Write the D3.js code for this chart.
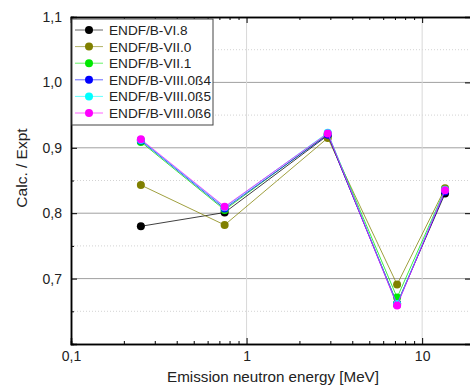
<!DOCTYPE html>
<html>
<head>
<meta charset="utf-8">
<script src="https://cdn.jsdelivr.net/npm/d3@7"></script>
<style>
  body { margin: 0; background: #fff; }
  text { font-family: "Liberation Sans", Arial, sans-serif; }
</style>
</head>
<body>
<svg width="470" height="392"></svg>
<script>
// emission energies (MeV)
const energies = [0.25, 0.75, 2.9, 7.2, 13.5]

const libraries = ["ENDF/B-VI.8", "ENDF/B-VII.0", "ENDF/B-VII.1", "ENDF/B-VIII.0ß4", "ENDF/B-VIII.0ß5", "ENDF/B-VIII.0ß6"]
const colors = ["#000000", "#808000", "#00e800", "#0000ff", "#00ffff", "#ff00ff"]

const vi8   = [0.780, 0.801, 0.919, 0.662, 0.830]
const vii0  = [0.843, 0.782, 0.915, 0.691, 0.838]
const vii1  = [0.909, 0.805, 0.921, 0.671, 0.836]
const viii4 = [0.911, 0.807, 0.920, 0.660, 0.833]
const viii5 = [0.912, 0.809, 0.923, 0.661, 0.836]
const viii6 = [0.913, 0.810, 0.922, 0.659, 0.835]
const seriesValues = [vi8, vii0, vii1, viii4, viii5, viii6]

const yTicks = [0.7, 0.8, 0.9, 1.0, 1.1]
const yMinor = [0.65, 0.75, 0.85, 0.95, 1.05]
const xTicks = [0.1, 1, 10]

const svg = d3.select("svg")
const mLeft = 71, mRight = 475, mTop = 17, mBottom = 344

const x = d3.scaleLog().domain([0.1, 20]).range([mLeft, mRight])
const y = d3.scaleLinear().domain([0.6, 1.1]).range([mBottom, mTop])

const fmt = d => d3.format(".1f")(d).replace(".", ",")

// grid
const grid = svg.append("g")
grid.selectAll(".minor").data(yMinor).enter().append("line")
  .attr("x1", mLeft).attr("x2", mRight)
  .attr("y1", d => y(d)).attr("y2", d => y(d))
  .attr("stroke", "#c8c8c8").attr("stroke-dasharray", "1,2").attr("stroke-width", 0.8)
grid.selectAll(".major").data(yTicks.slice(0, 4)).enter().append("line")
  .attr("x1", mLeft).attr("x2", mRight)
  .attr("y1", d => y(d)).attr("y2", d => y(d))
  .attr("stroke", "#a0a0a0").attr("stroke-width", 1)
grid.selectAll(".vx").data([1, 10]).enter().append("line")
  .attr("x1", d => x(d)).attr("x2", d => x(d))
  .attr("y1", mTop).attr("y2", mBottom)
  .attr("stroke", "#d8d8d8").attr("stroke-width", 1)

// axes
const xMinorVals = []
;[0.1, 1, 10].forEach(dec => { for (let k = 2; k <= 9; k++) if (dec * k <= 20) xMinorVals.push(dec * k) })

svg.append("g").attr("transform", `translate(0,${mBottom})`)
  .call(d3.axisBottom(x).tickValues(xTicks).tickSize(-6).tickPadding(7)
    .tickFormat(d => String(d).replace(".", ",")))
svg.append("g").attr("transform", `translate(0,${mBottom})`)
  .call(d3.axisBottom(x).tickValues(xMinorVals).tickSize(-3).tickFormat(""))

svg.append("g").attr("transform", `translate(0,${mTop})`)
  .call(d3.axisTop(x).tickValues(xTicks).tickSize(-6).tickFormat(""))
svg.append("g").attr("transform", `translate(0,${mTop})`)
  .call(d3.axisTop(x).tickValues(xMinorVals).tickSize(-3).tickFormat(""))

svg.append("g").attr("transform", `translate(${mLeft},0)`)
  .call(d3.axisLeft(y).tickValues(yTicks).tickSize(-6).tickPadding(9).tickFormat(fmt))
svg.append("g").attr("transform", `translate(${mLeft},0)`)
  .call(d3.axisLeft(y).tickValues(yMinor).tickSize(-3).tickFormat(""))
svg.append("g").attr("transform", `translate(${mRight - 4},0)`)
  .call(d3.axisRight(y).tickValues(yTicks).tickSize(-6).tickFormat(""))

svg.selectAll(".domain").attr("stroke", "#000").attr("stroke-width", 1.5)
svg.selectAll(".tick line").attr("stroke", "#000")
svg.selectAll(".tick text").attr("font-size", 14).attr("fill", "#222")
  .style("font-family", "'Liberation Sans', Arial, sans-serif")

// series
const line = d3.line().x((d, i) => x(energies[i])).y(d => y(d))
seriesValues.forEach((vals, s) => {
  const g = svg.append("g")
  g.append("path").datum(vals).attr("d", line)
    .attr("fill", "none").attr("stroke", colors[s]).attr("stroke-width", 1).attr("stroke-opacity", 0.75)
  g.selectAll("circle").data(vals).enter().append("circle")
    .attr("cx", (d, i) => x(energies[i])).attr("cy", d => y(d)).attr("r", 4)
    .attr("fill", colors[s])
})

// legend
const lg = svg.append("g").attr("transform", "translate(72,19)")
lg.append("rect").attr("width", 141).attr("height", 106)
  .attr("fill", "#fff").attr("stroke", "#444").attr("stroke-width", 1)
libraries.forEach((name, i) => {
  const yy = 11 + i * 16.6
  lg.append("line").attr("x1", 3).attr("x2", 31).attr("y1", yy).attr("y2", yy)
    .attr("stroke", colors[i]).attr("stroke-opacity", 0.6)
  lg.append("circle").attr("cx", 17).attr("cy", yy).attr("r", 4).attr("fill", colors[i])
  lg.append("text").attr("x", 37).attr("y", yy + 5).attr("font-size", 13.6).attr("fill", "#222").text(name)
})

// axis titles
svg.append("text").attr("transform", `translate(27,168) rotate(-90)`)
  .attr("text-anchor", "middle").attr("font-size", 15.5).attr("fill", "#222").text("Calc. / Expt")
svg.append("text").attr("x", 273).attr("y", 382)
  .attr("text-anchor", "middle").attr("font-size", 15.2).attr("fill", "#222").text("Emission neutron energy [MeV]")
</script>
</body>
</html>
